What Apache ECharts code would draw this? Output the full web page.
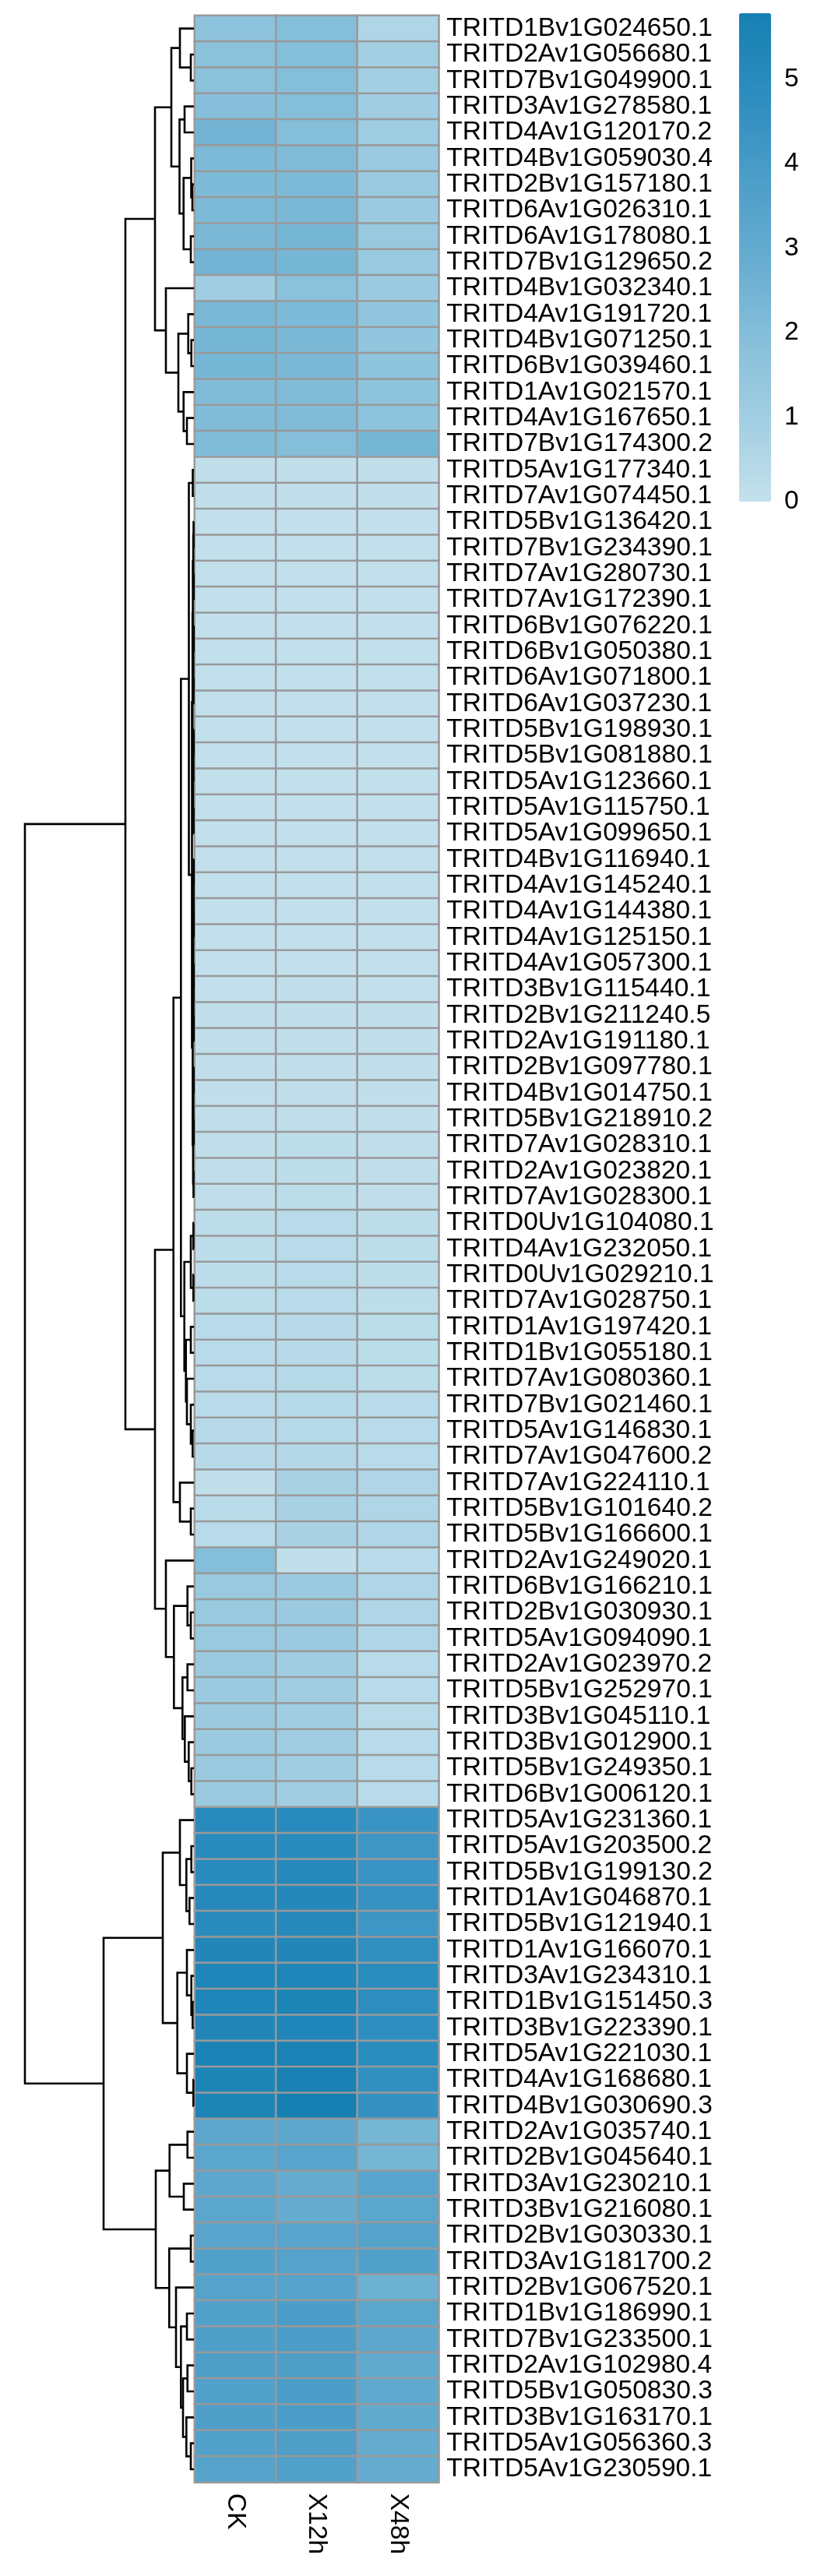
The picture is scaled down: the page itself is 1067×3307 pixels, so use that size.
<!DOCTYPE html>
<html>
<head>
<meta charset="utf-8">
<script src="https://cdn.jsdelivr.net/npm/echarts@6/dist/echarts.min.js"></script>
<style>
html,body{margin:0;padding:0;background:#fff;}
#chart{width:1067px;height:3307px;}
</style>
</head>
<body>
<div id="chart"></div>
<script>
// ---------- data ----------
const columns = ['CK', 'X12h', 'X48h'];
const rowLabels = [
'TRITD1Bv1G024650.1','TRITD2Av1G056680.1','TRITD7Bv1G049900.1','TRITD3Av1G278580.1','TRITD4Av1G120170.2',
'TRITD4Bv1G059030.4','TRITD2Bv1G157180.1','TRITD6Av1G026310.1','TRITD6Av1G178080.1','TRITD7Bv1G129650.2',
'TRITD4Bv1G032340.1','TRITD4Av1G191720.1','TRITD4Bv1G071250.1','TRITD6Bv1G039460.1','TRITD1Av1G021570.1',
'TRITD4Av1G167650.1','TRITD7Bv1G174300.2','TRITD5Av1G177340.1','TRITD7Av1G074450.1','TRITD5Bv1G136420.1',
'TRITD7Bv1G234390.1','TRITD7Av1G280730.1','TRITD7Av1G172390.1','TRITD6Bv1G076220.1','TRITD6Bv1G050380.1',
'TRITD6Av1G071800.1','TRITD6Av1G037230.1','TRITD5Bv1G198930.1','TRITD5Bv1G081880.1','TRITD5Av1G123660.1',
'TRITD5Av1G115750.1','TRITD5Av1G099650.1','TRITD4Bv1G116940.1','TRITD4Av1G145240.1','TRITD4Av1G144380.1',
'TRITD4Av1G125150.1','TRITD4Av1G057300.1','TRITD3Bv1G115440.1','TRITD2Bv1G211240.5','TRITD2Av1G191180.1',
'TRITD2Bv1G097780.1','TRITD4Bv1G014750.1','TRITD5Bv1G218910.2','TRITD7Av1G028310.1','TRITD2Av1G023820.1',
'TRITD7Av1G028300.1','TRITD0Uv1G104080.1','TRITD4Av1G232050.1','TRITD0Uv1G029210.1','TRITD7Av1G028750.1',
'TRITD1Av1G197420.1','TRITD1Bv1G055180.1','TRITD7Av1G080360.1','TRITD7Bv1G021460.1','TRITD5Av1G146830.1',
'TRITD7Av1G047600.2','TRITD7Av1G224110.1','TRITD5Bv1G101640.2','TRITD5Bv1G166600.1','TRITD2Av1G249020.1',
'TRITD6Bv1G166210.1','TRITD2Bv1G030930.1','TRITD5Av1G094090.1','TRITD2Av1G023970.2','TRITD5Bv1G252970.1',
'TRITD3Bv1G045110.1','TRITD3Bv1G012900.1','TRITD5Bv1G249350.1','TRITD6Bv1G006120.1','TRITD5Av1G231360.1',
'TRITD5Av1G203500.2','TRITD5Bv1G199130.2','TRITD1Av1G046870.1','TRITD5Bv1G121940.1','TRITD1Av1G166070.1',
'TRITD3Av1G234310.1','TRITD1Bv1G151450.3','TRITD3Bv1G223390.1','TRITD5Av1G221030.1','TRITD4Av1G168680.1',
'TRITD4Bv1G030690.3','TRITD2Av1G035740.1','TRITD2Bv1G045640.1','TRITD3Av1G230210.1','TRITD3Bv1G216080.1',
'TRITD2Bv1G030330.1','TRITD3Av1G181700.2','TRITD2Bv1G067520.1','TRITD1Bv1G186990.1','TRITD7Bv1G233500.1',
'TRITD2Av1G102980.4','TRITD5Bv1G050830.3','TRITD3Bv1G163170.1','TRITD5Av1G056360.3','TRITD5Av1G230590.1'
];
const valCK = [
1.7,1.8,1.8,1.9,2.5,2.2,2.2,2.2,2.3,2.5,
1.0,2.3,2.4,2.4,2.1,2.1,2.1,
0.1,0.1,0.05,0.05,0.05,0.05,0.05,0.05,0.05,0.05,
0.05,0.05,0.05,0.05,0.05,0.05,0.05,0.05,0.05,0.05,
0.05,0.1,0.1,0.1,0.1,0.1,0.15,0.15,0.15,
0.2,0.2,0.2,0.25,0.3,0.3,0.3,0.3,0.35,0.35,
0.1,0.3,0.3,
2.0,
1.3,1.3,1.3,1.2,1.2,1.2,1.2,1.2,1.2,
5.0,5.0,5.0,5.1,5.0,5.3,5.4,5.4,5.3,5.6,5.5,5.5,
3.2,3.3,3.2,3.3,3.4,3.6,3.5,3.6,3.7,3.7,3.6,3.7,3.6,3.5
];
const valX12h = [
2.0,2.0,2.0,2.0,2.0,2.1,2.2,2.3,2.4,2.4,
1.8,2.2,2.3,2.3,2.1,2.1,2.0,
0.1,0.1,0.05,0.05,0.05,0.05,0.05,0.05,0.05,0.05,
0.05,0.05,0.05,0.05,0.05,0.05,0.05,0.05,0.05,0.05,
0.1,0.1,0.1,0.1,0.15,0.15,0.2,0.2,0.2,
0.3,0.3,0.3,0.3,0.35,0.35,0.4,0.4,0.4,0.45,
0.8,0.8,0.8,
0.1,
1.2,1.2,1.2,1.0,1.0,1.0,1.0,1.0,1.0,
5.0,5.0,5.1,5.2,5.1,5.3,5.4,5.5,5.4,5.6,5.7,5.8,
3.2,3.4,2.9,2.9,3.4,3.5,3.5,3.8,3.8,3.7,3.8,3.8,3.7,3.6
];
const valX48h = [
0.6,0.9,0.9,1.0,1.1,1.2,1.2,1.2,1.3,1.3,
1.2,1.5,1.5,1.6,1.6,1.7,2.4,
0.1,0.1,0.05,0.05,0.05,0.05,0.05,0.05,0.05,0.05,
0.05,0.05,0.05,0.05,0.05,0.05,0.05,0.05,0.05,0.05,
0.05,0.1,0.1,0.1,0.1,0.1,0.15,0.15,0.15,
0.2,0.2,0.2,0.2,0.25,0.25,0.25,0.3,0.3,0.3,
0.6,0.6,0.6,
0.3,
0.6,0.6,0.6,0.3,0.3,0.3,0.3,0.3,0.3,
4.4,4.3,4.4,4.5,4.3,4.7,4.9,4.8,4.8,4.9,4.7,4.6,
2.4,2.4,3.4,3.3,3.5,3.6,2.7,3.3,3.2,3.0,3.1,3.0,2.9,2.9
];
const legendTicks = [0, 1, 2, 3, 4, 5];
const colorMin = 0;
const colorMax = 5.78;
const palette = ['#c4e1ec', '#a2cee2', '#86bfda', '#66acd0', '#4b9dc8', '#2d8dbf', '#1780b3'];

// row dendrogram: leaves are row numbers (1-based), nodes are [left, right, mergeHeight]
const treeTop = [
  [[1, [2, 3, 4], 18], [[4, 5, 12], [[6, [7, 8, 2], 3.5], [9, 10, 4], 13.3], 18.5], 29],
  [11, [[12, [13, 14, 3.3], 7.3], [15, [16, 17, 9], 13.3], 20], 36],
  50];
const treeLightZa = [[[[20, 21, 0.5], [22, 23, 0.4], 0.9], [[24, 25, 0.3], [26, 27, 0.5], 0.8], 1.4],
                     [[[28, 29, 0.4], 30, 0.7], [31, 32, 0.5], 1.1], 1.8];
const treeLightZb = [[[[33, 34, 0.3], [35, 36, 0.3], 0.5], [[37, 38, 0.3], [39, 40, 0.3], 0.6], 0.9],
                     [[[41, 42, 0.4], [43, 44, 0.3], 0.8], [45, 46, 0.6], 1.1], 1.6];
const treeLight = [
  [[[18, 19, 1.5], [treeLightZa, treeLightZb, 2.5], 6.5],
   [[[47, 48, 0.7], [49, 50, 0.7], 4], [[51, 52, 4], [53, [54, [55, 56, 1.7], 4], 9], 10.3], 12.3],
   16.7],
  [57, [58, 59, 4], 18],
  26.3];
const treeMid = [treeLight,
  [60, [[61, [62, 63, 4], 8.3], [[64, 65, 8.3], [66, [67, [68, 69, 3.3], 6.7], 11.7], 14.7], 25.7], 36],
  50];
const treeBottom = [
  [[70, [[71, 72, 3.3], [73, 74, 5.7], 9.7], 18],
   [[75, [76, [77, 78, 1.7], 3.3], 9], [79, [80, 81, 0.7], 9], 21.3], 40],
  [[[82, 83, 8.3], [84, 85, 13], 31.3],
   [[86, 87, 4], [88, [[89, 90, 9], [[91, 92, 8.3], [93, [94, 95, 4], 9.7], 14], 16.7], 23], 31.7], 49],
  116];
const treeRoot = [[treeTop, treeMid, 88], treeBottom, 217];
const treeMaxHeight = 217;

// ---------- build ----------
const heatData = [];
const colVals = [valCK, valX12h, valX48h];
colVals.forEach((arr, ci) => arr.forEach((v, ri) => heatData.push([ci, ri, v])));

const segs = [];
function walk(node) {
  if (typeof node === 'number') return { y: node, h: 0 };
  const l = walk(node[0]), r = walk(node[1]), h = node[2];
  segs.push({ coords: [[l.h, l.y], [h, l.y], [h, r.y], [r.h, r.y]] });
  return { y: (l.y + r.y) / 2, h: h };
}
walk(treeRoot);

const FONT = "'Liberation Sans', Arial, Helvetica, sans-serif";
const nRows = rowLabels.length;
const rowH = 100 / 3;
const gridTop = 20;
const gridH = nRows * rowH;
const legTop = 17, legH = 627;

const chart = echarts.init(document.getElementById('chart'), null, { renderer: 'canvas' });
chart.setOption({
  animation: false,
  backgroundColor: '#ffffff',
  textStyle: { fontFamily: FONT },
  grid: [
    { left: 250, top: gridTop, width: 313.3, height: gridH },
    { left: 32, top: gridTop, width: treeMaxHeight, height: gridH },
    { left: 949, top: legTop, width: 41, height: legH }
  ],
  xAxis: [
    { gridIndex: 0, type: 'category', data: columns, position: 'bottom',
      axisLine: { show: false }, axisTick: { show: false }, splitLine: { show: false },
      axisLabel: { rotate: -90, margin: 14, fontSize: 33.6, color: '#000', fontFamily: FONT } },
    { gridIndex: 1, type: 'value', min: 0, max: treeMaxHeight, inverse: true, show: false },
    { gridIndex: 2, type: 'value', min: 0, max: 1, show: false }
  ],
  yAxis: [
    { gridIndex: 0, type: 'category', data: rowLabels, inverse: true, position: 'right',
      axisLine: { show: false }, axisTick: { show: false }, splitLine: { show: false },
      axisLabel: { margin: 10, fontSize: 33.6, color: '#000', fontFamily: FONT, interval: 0 } },
    { gridIndex: 1, type: 'value', min: 0.5, max: nRows + 0.5, inverse: true, show: false },
    { gridIndex: 2, type: 'value', min: colorMin, max: colorMax, interval: 1, position: 'right',
      axisLine: { show: false }, axisTick: { show: false }, splitLine: { show: false },
      axisLabel: { margin: 17, fontSize: 33.6, color: '#000', fontFamily: FONT, showMaxLabel: false,
        formatter: v => legendTicks.indexOf(v) >= 0 ? String(v) : '' } }
  ],
  visualMap: {
    type: 'continuous', min: colorMin, max: colorMax, seriesIndex: 0,
    left: 949, top: legTop, itemWidth: 41, itemHeight: legH, padding: 0,
    calculable: false, realtime: false, hoverLink: false, text: null,
    inRange: { color: palette }
  },
  series: [
    { type: 'heatmap', xAxisIndex: 0, yAxisIndex: 0, data: heatData,
      itemStyle: { borderColor: '#999999', borderWidth: 2.5 },
      emphasis: { disabled: true }, silent: true },
    { type: 'lines', coordinateSystem: 'cartesian2d', xAxisIndex: 1, yAxisIndex: 1,
      polyline: true, data: segs, silent: true,
      lineStyle: { color: '#000000', width: 2.6, opacity: 1 } },
    { type: 'scatter', xAxisIndex: 2, yAxisIndex: 2, data: [], silent: true }
  ]
});
</script>
</body>
</html>
